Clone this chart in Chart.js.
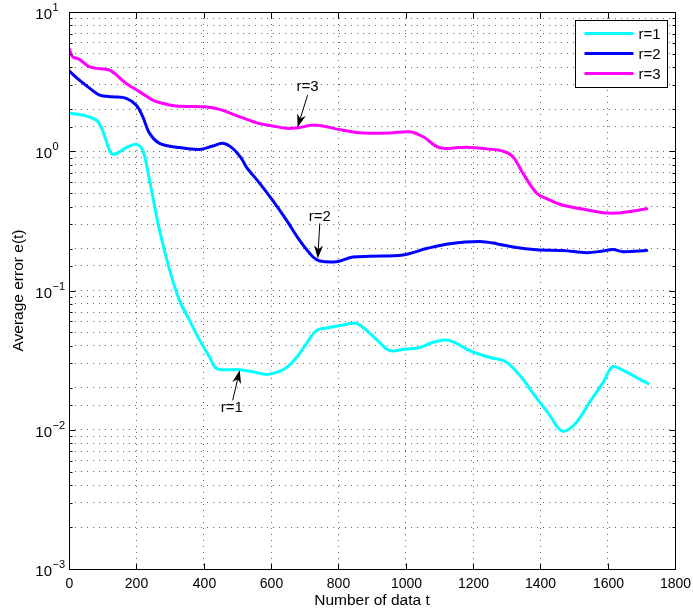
<!DOCTYPE html>
<html>
<head>
<meta charset="utf-8">
<script src="https://cdn.jsdelivr.net/npm/chart.js@4.4.0/dist/chart.umd.min.js"></script>
<style>
  html, body { margin: 0; padding: 0; background: #fff; }
</style>
</head>
<body>
<canvas id="myChart" width="693" height="613"></canvas>
<script>
// r = 1
const tR1 = [0, 40, 80, 95, 110, 125, 140, 170, 200, 220, 239, 269, 299, 328, 358, 388, 418, 438, 470, 507, 550, 586, 620, 646, 680, 705, 735, 770, 804, 854, 890, 923, 953, 1000, 1042, 1075, 1110, 1140, 1190, 1250, 1295, 1340, 1384, 1428, 1464, 1503, 1548, 1586, 1613, 1636, 1696, 1720];
const eR1 = [1.88, 1.82, 1.68, 1.5, 1.2, 0.97, 0.96, 1.06, 1.12, 1.0, 0.62, 0.27, 0.14, 0.085, 0.061, 0.044, 0.033, 0.0275, 0.027, 0.027, 0.026, 0.0249, 0.026, 0.0279, 0.034, 0.0416, 0.0515, 0.054, 0.056, 0.058, 0.05, 0.0423, 0.037, 0.038, 0.039, 0.042, 0.044, 0.043, 0.037, 0.033, 0.031, 0.0244, 0.0175, 0.0127, 0.0098, 0.011, 0.016, 0.0218, 0.0283, 0.0275, 0.023, 0.0215];

// r = 2
const tR2 = [0, 31, 61, 91, 130, 170, 200, 219, 239, 269, 319, 388, 427, 457, 486, 512, 527, 566, 606, 646, 685, 725, 745, 794, 843, 893, 992, 1062, 1131, 1220, 1270, 1319, 1389, 1467, 1537, 1586, 1616, 1646, 1716];
const eR2 = [3.78, 3.24, 2.84, 2.53, 2.46, 2.4, 2.14, 1.77, 1.35, 1.14, 1.07, 1.03, 1.09, 1.14, 1.05, 0.89, 0.77, 0.59, 0.44, 0.32, 0.229, 0.174, 0.163, 0.161, 0.174, 0.176, 0.18, 0.2, 0.217, 0.225, 0.217, 0.205, 0.196, 0.194, 0.187, 0.192, 0.197, 0.19, 0.194];

// r = 3
const tR3 = [0, 11, 31, 61, 120, 135, 170, 210, 249, 280, 319, 408, 447, 507, 566, 606, 646, 675, 735, 804, 864, 953, 1012, 1052, 1101, 1181, 1240, 1290, 1319, 1349, 1389, 1419, 1458, 1488, 1537, 1587, 1627, 1676, 1716];
const eR3 = [5.48, 4.77, 4.57, 4.04, 3.83, 3.62, 3.07, 2.67, 2.33, 2.2, 2.11, 2.08, 2.0, 1.77, 1.58, 1.52, 1.46, 1.47, 1.54, 1.43, 1.36, 1.35, 1.38, 1.27, 1.06, 1.07, 1.04, 1.0, 0.91, 0.69, 0.5, 0.457, 0.416, 0.4, 0.38, 0.362, 0.36, 0.372, 0.387];

const seriesNames = ["r=1", "r=2", "r=3"];
const xTicks = [0, 200, 400, 600, 800, 1000, 1200, 1400, 1600, 1800];

// arrows pointing at each curve
const annoLabels = ["r=1", "r=2", "r=3"];
const annoT = [507, 739, 679];
const annoE = [0.0267, 0.17, 1.49];

const FONT = '"Liberation Sans", Arial, Helvetica, sans-serif';
const colors = ["#00FFFF", "#0000FF", "#FF00FF"];

function toPoints(t, e) {
  return t.map((x, i) => ({ x: x, y: e[i] }));
}

function isDecade(v) {
  const l = Math.log10(v);
  return Math.abs(l - Math.round(l)) < 1e-6;
}

// text and arrow tail offsets (px) from the arrow tip
const annoOffsets = [
  { tx: -8, ty: 38, ax: -7, ay: 30 },
  { tx: 2, ty: -42, ax: 2, ay: -35 },
  { tx: 10, ty: -40, ax: 10, ay: -32 },
];

const axesPlugin = {
  id: "matlabAxes",
  afterDatasetsDraw(chart) {
    const c = chart.ctx;
    const xs = chart.scales.x;
    const ys = chart.scales.y;
    c.save();
    c.fillStyle = "#000";
    c.strokeStyle = "#000";
    c.lineWidth = 1;
    for (let i = 0; i < annoLabels.length; i++) {
      const px = xs.getPixelForValue(annoT[i]);
      const py = ys.getPixelForValue(annoE[i]);
      const o = annoOffsets[i];
      const bx = px + o.ax, by = py + o.ay;
      const ang = Math.atan2(py - by, px - bx);
      const len = 13, half = 4.5;
      c.beginPath();
      c.moveTo(bx, by);
      c.lineTo(px - Math.cos(ang) * len * 0.7, py - Math.sin(ang) * len * 0.7);
      c.stroke();
      const backX = px - Math.cos(ang) * len, backY = py - Math.sin(ang) * len;
      const nx = -Math.sin(ang), ny = Math.cos(ang);
      c.beginPath();
      c.moveTo(px, py);
      c.lineTo(backX + nx * half, backY + ny * half);
      c.lineTo(px - Math.cos(ang) * len * 0.7, py - Math.sin(ang) * len * 0.7);
      c.lineTo(backX - nx * half, backY - ny * half);
      c.closePath();
      c.fill();
      c.font = "15px " + FONT;
      c.textAlign = "center";
      c.textBaseline = "middle";
      c.fillText(annoLabels[i], px + o.tx, py + o.ty);
    }
    c.restore();
  },
  afterDraw(chart) {
    const c = chart.ctx;
    const a = chart.chartArea;
    const xs = chart.scales.x;
    const ys = chart.scales.y;
    const L = Math.round(a.left) + 0.5, R = Math.round(a.right) + 0.5;
    const T = Math.round(a.top) + 0.5, B = Math.round(a.bottom) + 0.5;
    c.save();
    c.strokeStyle = "#000";
    c.fillStyle = "#000";
    c.lineWidth = 1;
    c.strokeRect(L, T, R - L, B - T);

    // x ticks, inward on bottom and top
    c.font = "14px " + FONT;
    c.textAlign = "center";
    c.textBaseline = "middle";
    xs.ticks.forEach(tk => {
      const px = Math.round(xs.getPixelForValue(tk.value)) + 0.5;
      c.beginPath();
      c.moveTo(px, B); c.lineTo(px, B - 6);
      c.moveTo(px, T); c.lineTo(px, T + 6);
      c.stroke();
      c.fillText(String(tk.value), px, B + 15);
    });

    // y ticks, decades with labels, minor ticks shorter
    ys.ticks.forEach(tk => {
      const py = Math.round(ys.getPixelForValue(tk.value)) + 0.5;
      const major = isDecade(tk.value);
      const len = major ? 6 : 3;
      c.beginPath();
      c.moveTo(L, py); c.lineTo(L + len, py);
      c.moveTo(R, py); c.lineTo(R - len, py);
      c.stroke();
      if (major) {
        const k = Math.round(Math.log10(tk.value));
        c.font = "15px " + FONT;
        c.textAlign = "right";
        c.textBaseline = "middle";
        c.fillText("10", 52, py + 2);
        c.font = "11px " + FONT;
        c.textAlign = "left";
        c.fillText(k < 0 ? "\u2212" + (-k) : String(k), 52.5, py - 5);
      }
    });

    // axis titles
    c.font = "15.5px " + FONT;
    c.textAlign = "center";
    c.textBaseline = "middle";
    c.fillText("Number of data t", (a.left + a.right) / 2, 601);
    c.translate(19, (a.top + a.bottom) / 2);
    c.rotate(-Math.PI / 2);
    c.fillText("Average error e(t)", 0, 0);
    c.restore();

    // legend box, top right
    c.save();
    const lx = 575.5, ly = 20.5, lw = 92, lh = 67;
    c.fillStyle = "#fff";
    c.fillRect(lx, ly, lw, lh);
    c.strokeStyle = "#000";
    c.lineWidth = 1;
    c.strokeRect(lx, ly, lw, lh);
    chart.data.datasets.forEach((ds, i) => {
      const yy = ly + 13 + i * 20;
      c.strokeStyle = ds.borderColor;
      c.lineWidth = 3;
      c.beginPath();
      c.moveTo(lx + 9, yy);
      c.lineTo(lx + 58, yy);
      c.stroke();
      c.fillStyle = "#000";
      c.font = "15px " + FONT;
      c.textAlign = "left";
      c.textBaseline = "middle";
      c.fillText(ds.label, lx + 63, yy + 1);
    });
    c.restore();
  },
};

const ctx = document.getElementById("myChart");

new Chart(ctx, {
  type: "line",
  data: {
    datasets: [
      { label: seriesNames[0], data: toPoints(tR1, eR1) },
      { label: seriesNames[1], data: toPoints(tR2, eR2) },
      { label: seriesNames[2], data: toPoints(tR3, eR3) },
    ].map((ds, i) => ({
      ...ds,
      borderColor: colors[i],
      backgroundColor: colors[i],
      borderWidth: 3,
      borderJoinStyle: "round",
      borderCapStyle: "round",
      pointRadius: 0,
      tension: 0.35,
      fill: false,
    })),
  },
  options: {
    responsive: false,
    animation: false,
    devicePixelRatio: 1,
    layout: { padding: { left: 0, right: 18, top: 12, bottom: 0 } },
    plugins: {
      legend: { display: false },
      tooltip: { enabled: false },
    },
    scales: {
      x: {
        type: "linear",
        min: 0,
        max: 1800,
        afterBuildTicks(scale) {
          scale.ticks = xTicks.map(v => ({ value: v }));
        },
        afterFit(scale) {
          scale.height = 44;
        },
        ticks: { display: false },
        grid: { color: "#666", lineWidth: 1, drawTicks: false },
        border: { display: false, dash: [1, 5] },
      },
      y: {
        type: "logarithmic",
        min: 0.001,
        max: 10,
        afterFit(scale) {
          scale.width = 69;
        },
        ticks: { display: false },
        grid: { color: "#666", lineWidth: 1, drawTicks: false },
        border: { display: false, dash: [1, 5] },
      },
    },
  },
  plugins: [axesPlugin],
});
</script>
</body>
</html>
